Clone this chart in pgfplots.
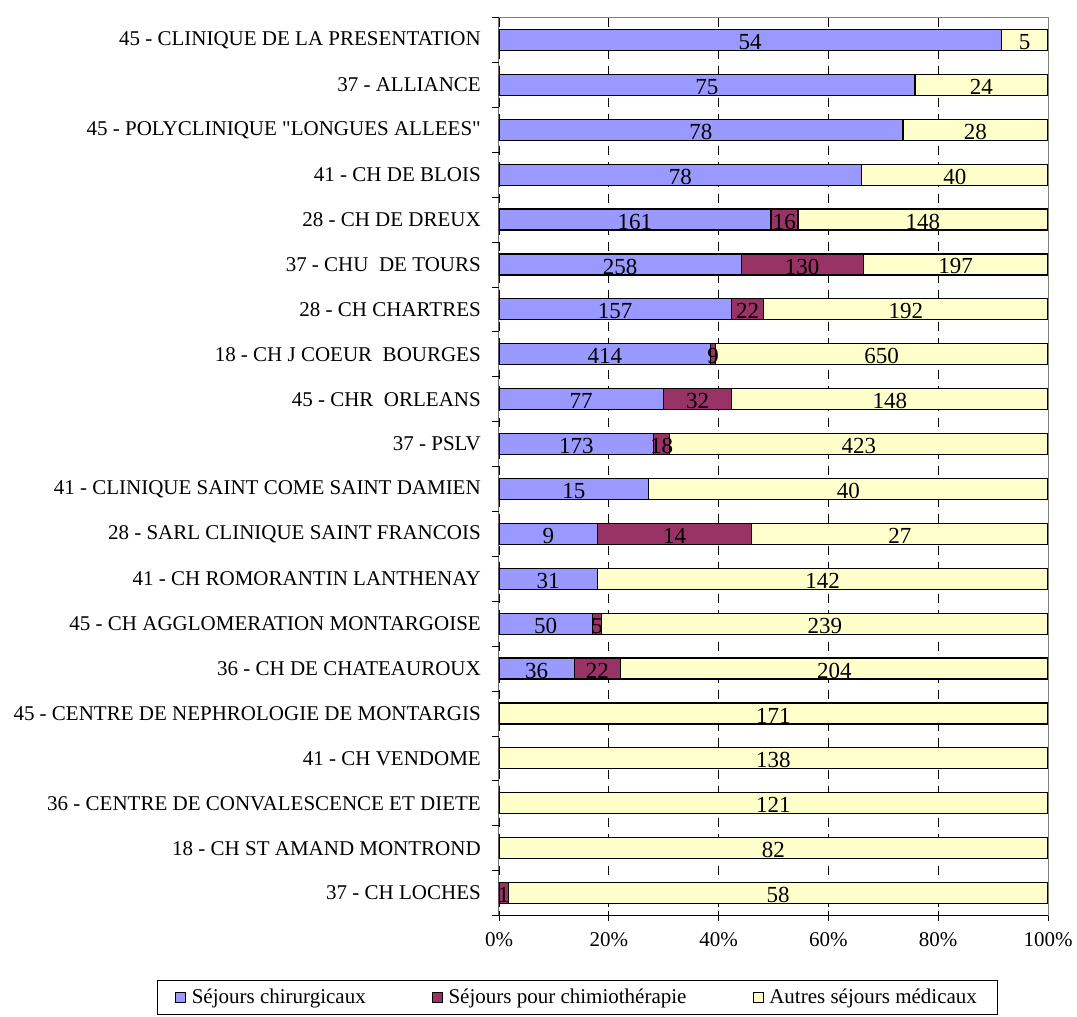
\documentclass[border=0pt]{standalone}
\usepackage{pgfplots}
\pgfplotsset{compat=1.18}
\usepackage{pgfplotstable}
\usepackage{fontspec}
\setmainfont{Liberation Serif}
\newfontfamily\plainq[Ligatures=ResetAll]{Liberation Serif}
\definecolor{chir}{HTML}{9999FF}
\definecolor{chimio}{HTML}{993366}
\definecolor{autres}{HTML}{FFFFCC}

% idx a = chirurgicaux, b = chimiotherapie, c = autres medicaux
\pgfplotstableread{
idx a b c
0 54 0 5
1 75 0 24
2 78 0 28
3 78 0 40
4 161 16 148
5 258 130 197
6 157 22 192
7 414 9 650
8 77 32 148
9 173 18 423
10 15 0 40
11 9 14 27
12 31 0 142
13 50 5 239
14 36 22 204
15 0 0 171
16 0 0 138
17 0 0 121
18 0 0 82
19 0 1 58
}\data

\begin{document}
\fontsize{21}{25}\selectfont
\begin{tikzpicture}
\path[use as bounding box] (0,0) rectangle (1077pt,-1017pt);
\begin{axis}[
  at={(499pt,-915.5pt)}, anchor=south west,
  scale only axis, width=549pt, height=898pt,
  xmin=0, xmax=100, ymin=-0.5, ymax=19.5,
  y dir=reverse,
  xbar, bar width=21pt, bar shift=0pt,
  /pgf/number format/assume math mode=true,
  xtick={0,20,...,100},
  xticklabel={\pgfmathprintnumber{\tick}\%},
  xtick pos=bottom, tick align=center,
  major tick length=10pt,
  xmajorgrids, major x grid style={black, dash pattern=on 9pt off 7pt, line width=0.8pt},
  ytick={0,...,19},
  yticklabels={
    {45 - CLINIQUE DE LA PRESENTATION},
    {37 - ALLIANCE},
    {45 - POLYCLINIQUE {\plainq"}LONGUES ALLEES{\plainq"}},
    {41 - CH DE BLOIS},
    {28 - CH DE DREUX},
    {37 - CHU\ \ DE TOURS},
    {28 - CH CHARTRES},
    {18 - CH J COEUR\ \ BOURGES},
    {45 - CHR\ \ ORLEANS},
    {37 - PSLV},
    {41 - CLINIQUE SAINT COME SAINT DAMIEN},
    {28 - SARL CLINIQUE SAINT FRANCOIS},
    {41 - CH ROMORANTIN LANTHENAY},
    {45 - CH AGGLOMERATION MONTARGOISE},
    {36 - CH DE CHATEAUROUX},
    {45 - CENTRE DE NEPHROLOGIE DE MONTARGIS},
    {41 - CH VENDOME},
    {36 - CENTRE DE CONVALESCENCE ET DIETE},
    {18 - CH ST AMAND MONTROND},
    {37 - CH LOCHES}},
  y tick style={draw=none},
  extra y ticks={-0.5,0.5,...,19.5},
  extra y tick labels={},
  extra y tick style={y tick style={draw=black, line width=0.8pt}, tick align=outside, major tick length=7pt, ytick pos=left},
  ytick pos=left,
  x tick style={black, line width=0.8pt},
  yticklabel style={inner sep=0pt, xshift=-13pt, font=\fontsize{21}{25}\selectfont},
  xticklabel style={inner sep=0pt, yshift=-12pt, font=\fontsize{21}{25}\selectfont},
  axis line style={draw=gray, line width=1pt},
  legend columns=3,
  legend style={at={(0.142,-0.0915)}, anchor=center, draw=black, line width=0.8pt,
    font=\fontsize{21}{25}\selectfont, inner xsep=18pt, inner ysep=6pt,
    /tikz/every even column/.append style={column sep=64pt}},
  legend image code/.code={\draw[#1, line width=0.8pt] (0pt,-5pt) rectangle (10pt,5pt);},
  every axis plot/.append style={line width=1.2pt},
]
\addlegendimage{fill=chir, draw=black}
\addlegendentry{\hspace{4pt}Séjours chirurgicaux}
\addlegendimage{fill=chimio, draw=black}
\addlegendentry{\hspace{4pt}Séjours pour chimiothérapie}
\addlegendimage{fill=autres, draw=black}
\addlegendentry{\hspace{4pt}Autres séjours médicaux}

\addplot[forget plot, fill=autres, draw=black] table[y=idx, x expr={(\thisrow{a}+\thisrow{b}+\thisrow{c})/(\thisrow{a}+\thisrow{b}+\thisrow{c})*100}] {\data};
\addplot[forget plot, fill=chimio, draw=black] table[y=idx, x expr={(\thisrow{a}+\thisrow{b})/(\thisrow{a}+\thisrow{b}+\thisrow{c})*100}] {\data};
\addplot[forget plot, fill=chir, draw=black] table[y=idx, x expr={\thisrow{a}/(\thisrow{a}+\thisrow{b}+\thisrow{c})*100}] {\data};

\pgfplotsset{lbl/.style={forget plot, draw=none, mark=none, xbar=0pt, bar width=0pt, fill=none,
  point meta=explicit symbolic, nodes near coords align=center,
  nodes near coords={\ifnum\pgfplotspointmeta=0 \else\pgfplotspointmeta\fi},
  every node near coord/.append style={font=\fontsize{23}{25}\selectfont, inner sep=0pt, anchor=center, yshift=-2pt}}}
\addplot[lbl] table[y=idx, meta=a, x expr={(\thisrow{a}/2)/(\thisrow{a}+\thisrow{b}+\thisrow{c})*100}] {\data};
\addplot[lbl] table[y=idx, meta=b, x expr={(\thisrow{a}+\thisrow{b}/2)/(\thisrow{a}+\thisrow{b}+\thisrow{c})*100}] {\data};
\addplot[lbl] table[y=idx, meta=c, x expr={(\thisrow{a}+\thisrow{b}+\thisrow{c}/2)/(\thisrow{a}+\thisrow{b}+\thisrow{c})*100}] {\data};

\draw[black, line width=1pt] (axis cs:0,-0.5) -- (axis cs:0,19.5);
\draw[black, line width=1pt] (axis cs:0,19.5) -- (axis cs:100,19.5);
\end{axis}
\end{tikzpicture}
\end{document}
